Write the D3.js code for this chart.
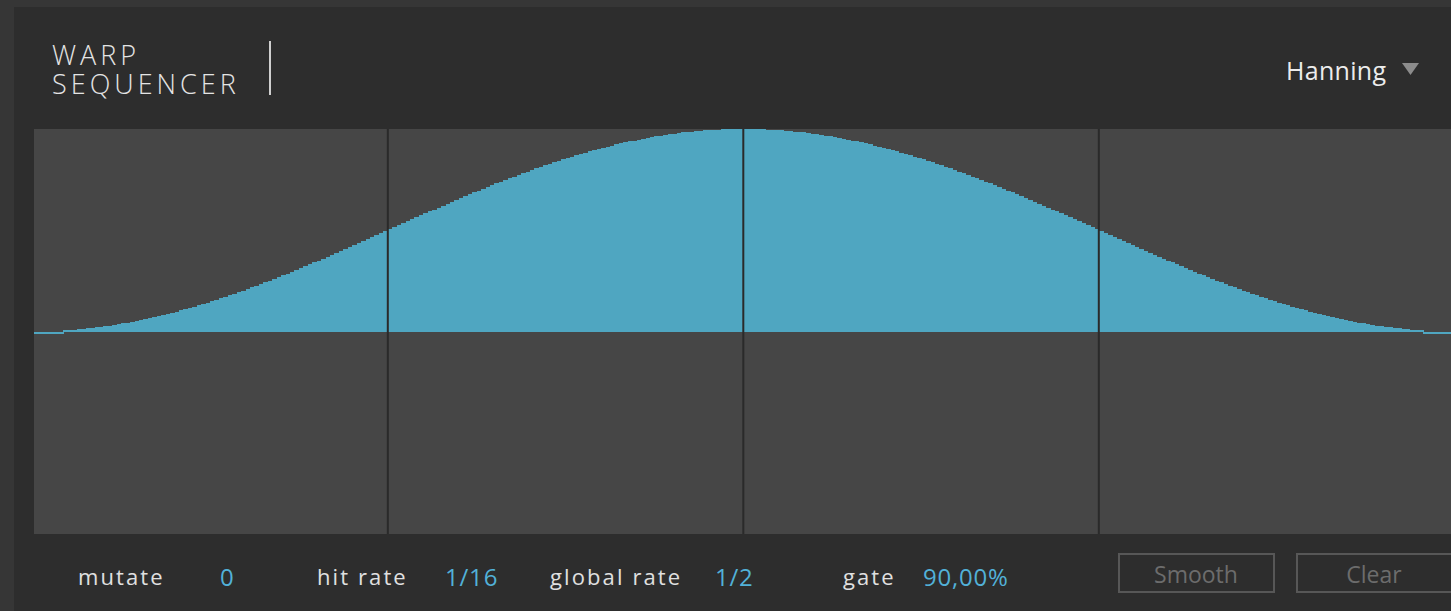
<!DOCTYPE html>
<html>
<head>
<meta charset="utf-8">
<script src="https://cdn.jsdelivr.net/npm/d3@7"></script>
<style>
  html, body { margin: 0; padding: 0; background: #363636; overflow: hidden; }
  text { font-family: "Open Sans", "Noto Sans", sans-serif; }
</style>
</head>
<body>
<script>
// step values of the warp shape (0..1), one per sequencer step
var steps = [
  0.000,0.000,0.001,0.001,0.002,0.003,0.004,0.005,0.007,0.009,
  0.011,0.013,0.015,0.017,0.020,0.023,0.026,0.029,0.033,0.036,
  0.040,0.044,0.048,0.052,0.057,0.061,0.066,0.071,0.076,0.082,
  0.087,0.093,0.098,0.104,0.110,0.117,0.123,0.130,0.136,0.143,
  0.150,0.157,0.164,0.172,0.179,0.187,0.194,0.202,0.210,0.218,
  0.226,0.235,0.243,0.251,0.260,0.269,0.277,0.286,0.295,0.304,
  0.313,0.322,0.332,0.341,0.350,0.360,0.369,0.379,0.388,0.398,
  0.407,0.417,0.427,0.436,0.446,0.456,0.466,0.475,0.485,0.495,
  0.505,0.515,0.525,0.534,0.544,0.554,0.564,0.573,0.583,0.593,
  0.602,0.612,0.621,0.631,0.640,0.650,0.659,0.668,0.678,0.687,
  0.696,0.705,0.714,0.723,0.731,0.740,0.749,0.757,0.765,0.774,
  0.782,0.790,0.798,0.806,0.813,0.821,0.828,0.836,0.843,0.850,
  0.857,0.864,0.870,0.877,0.883,0.890,0.896,0.902,0.907,0.913,
  0.918,0.924,0.929,0.934,0.939,0.943,0.948,0.952,0.956,0.960,
  0.964,0.967,0.971,0.974,0.977,0.980,0.983,0.985,0.987,0.989,
  0.991,0.993,0.995,0.996,0.997,0.998,0.999,0.999,1.000,1.000,
  1.000,1.000,0.999,0.999,0.998,0.997,0.996,0.995,0.993,0.991,
  0.989,0.987,0.985,0.983,0.980,0.977,0.974,0.971,0.967,0.964,
  0.960,0.956,0.952,0.948,0.943,0.939,0.934,0.929,0.924,0.918,
  0.913,0.907,0.902,0.896,0.890,0.883,0.877,0.870,0.864,0.857,
  0.850,0.843,0.836,0.828,0.821,0.813,0.806,0.798,0.790,0.782,
  0.774,0.765,0.757,0.749,0.740,0.731,0.723,0.714,0.705,0.696,
  0.687,0.678,0.668,0.659,0.650,0.640,0.631,0.621,0.612,0.602,
  0.593,0.583,0.573,0.564,0.554,0.544,0.534,0.525,0.515,0.505,
  0.495,0.485,0.475,0.466,0.456,0.446,0.436,0.427,0.417,0.407,
  0.398,0.388,0.379,0.369,0.360,0.350,0.341,0.332,0.322,0.313,
  0.304,0.295,0.286,0.277,0.269,0.260,0.251,0.243,0.235,0.226,
  0.218,0.210,0.202,0.194,0.187,0.179,0.172,0.164,0.157,0.150,
  0.143,0.136,0.130,0.123,0.117,0.110,0.104,0.098,0.093,0.087,
  0.082,0.076,0.071,0.066,0.061,0.057,0.052,0.048,0.044,0.040,
  0.036,0.033,0.029,0.026,0.023,0.020,0.017,0.015,0.013,0.011,
  0.009,0.007,0.005,0.004,0.003,0.002,0.001,0.001,0.000,0.000
];
// beat divisions (step index of each vertical line)
var beatSteps = [80, 160, 240];

var titleLines = ["WARP", "SEQUENCER"];
var windowName = "Hanning";

var paramLabels = ["mutate", "hit rate", "global rate", "gate"];
var paramValues = ["0", "1/16", "1/2", "90,00%"];
var buttonLabels = ["Smooth", "Clear"];

var svgWidth = 1451, svgHeight = 611;
var plot = {left: 34, top: 129, right: 1451, bottom: 534};

var svg = d3.select("body")
  .append("svg")
  .attr("width", svgWidth)
  .attr("height", svgHeight);

// panel
svg.append("rect")
  .attr("x", 14).attr("y", 7)
  .attr("width", svgWidth - 14).attr("height", svgHeight - 7)
  .attr("fill", "#2d2d2d");

// header
svg.selectAll("text.title")
  .data(titleLines)
  .enter().append("text")
  .attr("class", "title")
  .attr("x", 52)
  .attr("y", function(d, i) { return 65 + i * 29; })
  .attr("fill", "#e4e4e4")
  .attr("font-size", "27px")
  .attr("font-weight", 300)
  .attr("letter-spacing", "4px")
  .text(function(d) { return d; });

svg.append("rect")
  .attr("x", 269).attr("y", 41)
  .attr("width", 2).attr("height", 54)
  .attr("fill", "#cfcfcf");

svg.append("text")
  .attr("x", 1286).attr("y", 80)
  .attr("fill", "#ececec")
  .attr("font-size", "25px")
  .attr("letter-spacing", "0.3px")
  .text(windowName);

svg.append("path")
  .attr("d", "M1402,63 L1419,63 L1410.5,75 Z")
  .attr("fill", "#8c8c8c");

// plot area
svg.append("clipPath").attr("id", "plotClip")
  .append("rect")
  .attr("x", plot.left).attr("y", plot.top)
  .attr("width", plot.right - plot.left).attr("height", plot.bottom - plot.top);

svg.append("rect")
  .attr("x", plot.left).attr("y", plot.top)
  .attr("width", plot.right - plot.left).attr("height", plot.bottom - plot.top)
  .attr("fill", "#464646");

var xScale = d3.scaleBand()
  .domain(d3.range(steps.length))
  .range([32.3, 1454.3])
  .padding(0);

var yScale = d3.scaleLinear()
  .domain([-1, 1])
  .range([plot.bottom, plot.top]);

var g = svg.append("g").attr("clip-path", "url(#plotClip)");

g.selectAll("rect.step")
  .data(steps)
  .enter().append("rect")
  .attr("class", "step")
  .attr("shape-rendering", "crispEdges")
  .attr("x", function(d, i) { return xScale(i); })
  .attr("width", xScale.bandwidth() + 0.6)
  .attr("y", function(d) {
    var h = yScale(0) - yScale(d);
    return h < 1 ? yScale(0) : yScale(d);
  })
  .attr("height", function(d) {
    var h = yScale(0) - yScale(d);
    return h < 1 ? 2 : h;
  })
  .attr("fill", "#4fa6c1");

g.selectAll("rect.beat")
  .data(beatSteps)
  .enter().append("rect")
  .attr("class", "beat")
  .attr("x", function(d) { return xScale(d) - 1; })
  .attr("y", plot.top)
  .attr("width", 2)
  .attr("height", plot.bottom - plot.top)
  .attr("fill", "#2a2a2a");

// footer parameters
var labelX = [78, 317, 550, 843];
var valueX = [220, 445, 715, 923];

svg.selectAll("text.plabel")
  .data(paramLabels)
  .enter().append("text")
  .attr("class", "plabel")
  .attr("x", function(d, i) { return labelX[i]; })
  .attr("y", 585)
  .attr("fill", "#e0e0e0")
  .attr("font-size", "22px")
  .attr("letter-spacing", "2.1px")
  .text(function(d) { return d; });

svg.selectAll("text.pvalue")
  .data(paramValues)
  .enter().append("text")
  .attr("class", "pvalue")
  .attr("x", function(d, i) { return valueX[i]; })
  .attr("y", 586)
  .attr("fill", "#52b1d8")
  .attr("font-size", "24px")
  .attr("letter-spacing", "0.8px")
  .text(function(d) { return d; });

var buttonX = [1118, 1296];
var btn = svg.selectAll("g.btn")
  .data(buttonLabels)
  .enter().append("g")
  .attr("class", "btn")
  .attr("transform", function(d, i) { return "translate(" + buttonX[i] + ",553)"; });

btn.append("rect")
  .attr("x", 1).attr("y", 1)
  .attr("width", 155).attr("height", 38)
  .attr("fill", "none")
  .attr("stroke", "#575757")
  .attr("stroke-width", 2);

btn.append("text")
  .attr("x", 78).attr("y", 30)
  .attr("text-anchor", "middle")
  .attr("fill", "#6c6c6c")
  .attr("font-size", "23px")
  .text(function(d) { return d; });
</script>
</body>
</html>
